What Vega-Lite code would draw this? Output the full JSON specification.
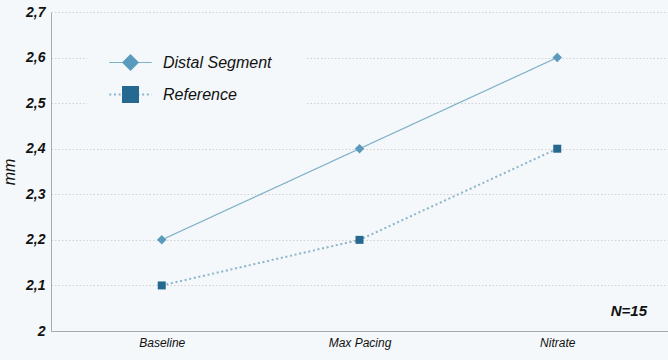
{
  "$schema": "https://vega.github.io/schema/vega-lite/v6.json",
  "width": 617,
  "height": 319,
  "autosize": {"type": "none"},
  "padding": {"left": 51, "top": 12, "right": 0, "bottom": 29},
  "background": "#f4f8fa",
  "config": {
    "locale": {"number": {"decimal": ",", "thousands": ".", "grouping": [3], "currency": ["", " €"]}},
    "view": {"stroke": null},
    "font": "Liberation Sans"
  },
  "data": {
    "values": [
      {"series": "Distal Segment", "stage": "Baseline", "mm": 2.2},
      {"series": "Distal Segment", "stage": "Max Pacing", "mm": 2.4},
      {"series": "Distal Segment", "stage": "Nitrate", "mm": 2.6},
      {"series": "Reference", "stage": "Baseline", "mm": 2.1},
      {"series": "Reference", "stage": "Max Pacing", "mm": 2.2},
      {"series": "Reference", "stage": "Nitrate", "mm": 2.4}
    ]
  },
  "encoding": {
    "y": {
      "field": "mm",
      "type": "quantitative",
      "scale": {"domain": [2, 2.7], "nice": false, "zero": false},
      "axis": {
        "title": "mm",
        "values": [2, 2.1, 2.2, 2.3, 2.4, 2.5, 2.6, 2.7],
        "format": ".1~f",
        "grid": true,
        "gridColor": "#d2d2d2",
        "gridDash": [1.5, 2],
        "ticks": false,
        "domainColor": "#aaaaaa",
        "labelFont": "Liberation Sans",
        "labelFontSize": 14,
        "labelFontWeight": "bold",
        "labelFontStyle": "italic",
        "labelColor": "#111111",
        "labelPadding": 6,
        "titleFont": "Liberation Sans",
        "titleFontSize": 16,
        "titleFontStyle": "italic",
        "titleFontWeight": "normal",
        "titleColor": "#111111",
        "titlePadding": 8
      }
    }
  },
  "layer": [
    {
      "mark": {"type": "line"},
      "encoding": {
        "x": {
          "field": "stage",
          "type": "nominal",
          "scale": {"type": "point", "domain": ["Baseline", "Max Pacing", "Nitrate"], "padding": 0.56},
          "axis": {
            "title": null,
            "labelAngle": 0,
            "ticks": false,
            "grid": false,
            "domainColor": "#aaaaaa",
            "labelFont": "Liberation Sans",
            "labelFontSize": 12,
            "labelFontStyle": "italic",
            "labelColor": "#111111",
            "labelPadding": 6
          }
        },
        "color": {
          "field": "series",
          "type": "nominal",
          "scale": {"domain": ["Distal Segment", "Reference"], "range": ["#7fb0c9", "#8cb5ca"]},
          "legend": {
            "orient": "none", "legendX": 36, "legendY": 7, "padding": 34, "title": null,
            "symbolSize": 289, "symbolStrokeWidth": 1.5, "symbolType": "M-2.5,0H2.5",
            "labelFont": "Liberation Sans", "labelFontSize": 16, "labelFontStyle": "italic",
            "labelColor": "#111111", "labelOffset": 23, "rowPadding": 14, "labelLimit": 300,
            "fillColor": "#f4f8fa"
          }
        },
        "strokeDash": {
          "field": "series",
          "type": "nominal",
          "scale": {"domain": ["Distal Segment", "Reference"], "range": [[1, 0], [2, 2.7]]},
          "legend": {
            "orient": "none", "legendX": 36, "legendY": 7, "padding": 34, "title": null,
            "symbolSize": 289, "symbolStrokeWidth": 1.5, "symbolType": "M-2.5,0H2.5",
            "labelFont": "Liberation Sans", "labelFontSize": 16, "labelFontStyle": "italic",
            "labelColor": "#111111", "labelOffset": 23, "rowPadding": 14, "labelLimit": 300,
            "fillColor": "#f4f8fa"
          }
        },
        "strokeWidth": {
          "field": "series",
          "type": "nominal",
          "scale": {"domain": ["Distal Segment", "Reference"], "range": [1.2, 2]},
          "legend": null
        }
      }
    },
    {
      "mark": {"type": "point", "filled": true, "opacity": 1},
      "encoding": {
        "x": {
          "field": "stage",
          "type": "nominal",
          "scale": {"type": "point", "domain": ["Baseline", "Max Pacing", "Nitrate"], "padding": 0.56}
        },
        "color": {
          "field": "series",
          "type": "nominal",
          "scale": {"domain": ["Distal Segment", "Reference"], "range": ["#5a9bbd", "#256890"]},
          "legend": {
            "orient": "none", "legendX": 36, "legendY": 7, "padding": 34, "title": null,
            "symbolSize": 289, "symbolStrokeWidth": 1.5,
            "labelFont": "Liberation Sans", "labelFontSize": 16, "labelFontStyle": "italic",
            "labelExpr": "''", "labelOffset": 23, "rowPadding": 14, "labelLimit": 300,
            "encode": {"symbols": {"update": {"size": {"value": 289}}}}
          }
        },
        "shape": {
          "field": "series",
          "type": "nominal",
          "scale": {"domain": ["Distal Segment", "Reference"], "range": ["diamond", "square"]},
          "legend": {
            "orient": "none", "legendX": 36, "legendY": 7, "padding": 34, "title": null,
            "symbolSize": 289, "symbolStrokeWidth": 1.5,
            "labelFont": "Liberation Sans", "labelFontSize": 16, "labelFontStyle": "italic",
            "labelExpr": "''", "labelOffset": 23, "rowPadding": 14, "labelLimit": 300,
            "encode": {"symbols": {"update": {"size": {"value": 289}}}}
          }
        },
        "size": {
          "condition": {"test": "datum.series === 'Reference'", "value": 64},
          "value": 90
        }
      }
    },
    {
      "data": {"values": [{"note": "N=15", "mm": 2.044}]},
      "mark": {
        "type": "text",
        "x": {"expr": "width - 21"},
        "align": "right",
        "baseline": "middle",
        "font": "Liberation Sans",
        "fontSize": 15,
        "fontWeight": "bold",
        "fontStyle": "italic",
        "color": "#111111"
      },
      "encoding": {
        "text": {"field": "note", "type": "nominal"}
      }
    }
  ],
  "resolve": {
    "scale": {"color": "independent", "shape": "independent", "strokeDash": "independent", "strokeWidth": "independent"}
  }
}
